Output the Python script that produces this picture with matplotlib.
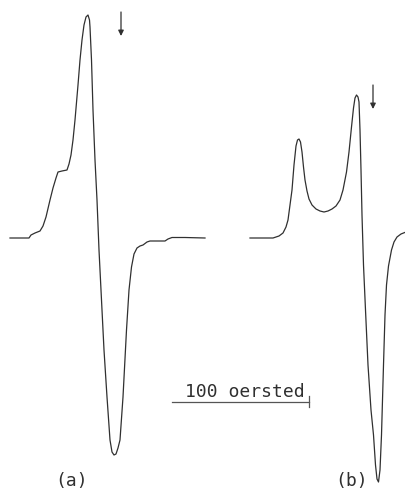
import matplotlib.pyplot as plt

# ESR derivative spectra, traced field (arb. units) vs signal (arb. units, baseline 0)
field_a = [10, 20, 29, 31, 35, 40, 43, 46, 50, 53, 56, 58, 62, 67, 69, 71, 73, 75, 78, 80,
           82, 84, 86, 88, 89.5, 90, 91.5, 93, 95, 97, 99, 101.5, 104, 107, 110, 112, 114,
           116, 118, 120, 123, 126.5, 129, 131.5, 134, 137, 140, 143, 147, 150, 160, 165,
           168, 172, 185, 205]
signal_a = [0, 0, 0, 3, 5, 7, 12, 21, 38, 50, 60, 66, 67, 68, 74, 83, 98, 118, 153, 178,
            198, 213, 221, 223, 218, 211, 178, 128, 78, 38, -12, -62, -112, -159, -202, -214,
            -217, -216, -210, -202, -159, -92, -52, -29, -16, -10, -8, -7, -4, -3, -3, -3,
            -1, 0.5, 0.5, 0]

field_b = [250, 273, 279, 283, 286, 288, 290, 292, 294, 296, 297.5, 299, 300.5, 302, 303.5,
           305, 307, 309, 312, 316, 320, 324, 328, 332, 336, 340, 343, 346.5, 349, 351.5,
           353.5, 355, 356.5, 358, 359, 360, 361, 362, 363.5, 365.5, 368, 371, 373.5, 375.5,
           377, 378.5, 380, 381.5, 382.5, 383.5, 385, 386.5, 388.5, 391.5, 394, 397, 401, 406]
signal_b = [0, 0, 2, 5, 11, 18, 33, 48, 73, 92, 98, 99, 96, 86, 71, 58, 47, 39, 33, 29, 27,
            26, 27, 29, 32, 38, 48, 66, 86, 111, 130, 140, 143, 141, 136, 108, 68, 23, -27,
            -72, -127, -172, -197, -227, -241, -244, -232, -197, -162, -127, -77, -47, -28,
            -12, -4, 1, 4, 6]

# field markers (arrows) and labels
marker_field = [121, 373]
marker_top = [226, 153]
labels = ['(a)', '(b)']
label_field = [72, 352]

# 100 oersted scale bar
bar_start, bar_end = 172, 309
bar_text = '100 oersted'

ink = '#303030'

fig = plt.figure(figsize=(4.06, 4.93), dpi=100)
ax = fig.add_axes([0, 0, 1, 1])
ax.set_xlim(0, 406)
ax.set_ylim(-255, 238)
ax.axis('off')

ax.plot(field_a, signal_a, color=ink, lw=0.9)
ax.plot(field_b, signal_b, color=ink, lw=0.9)

for f, top in zip(marker_field, marker_top):
    ax.annotate('', xy=(f, top - 24), xytext=(f, top),
                arrowprops=dict(arrowstyle='-|>', color=ink, lw=0.9,
                                mutation_scale=8, shrinkA=0, shrinkB=0))

for f, lab in zip(label_field, labels):
    ax.text(f, -243, lab, ha='center', va='center', fontsize=13,
            family='DejaVu Sans Mono', color=ink)

ax.plot([bar_start, bar_end], [-163.5, -163.5], color='#555555', lw=0.9)
ax.plot([bar_end, bar_end], [-158, -169], color='#555555', lw=0.9)
ax.text((bar_start + bar_end) / 2 + 4, -159, bar_text, ha='center', va='baseline',
        fontsize=13, family='DejaVu Sans Mono', color=ink)

fig.savefig('out.png', dpi=100, facecolor='white')
